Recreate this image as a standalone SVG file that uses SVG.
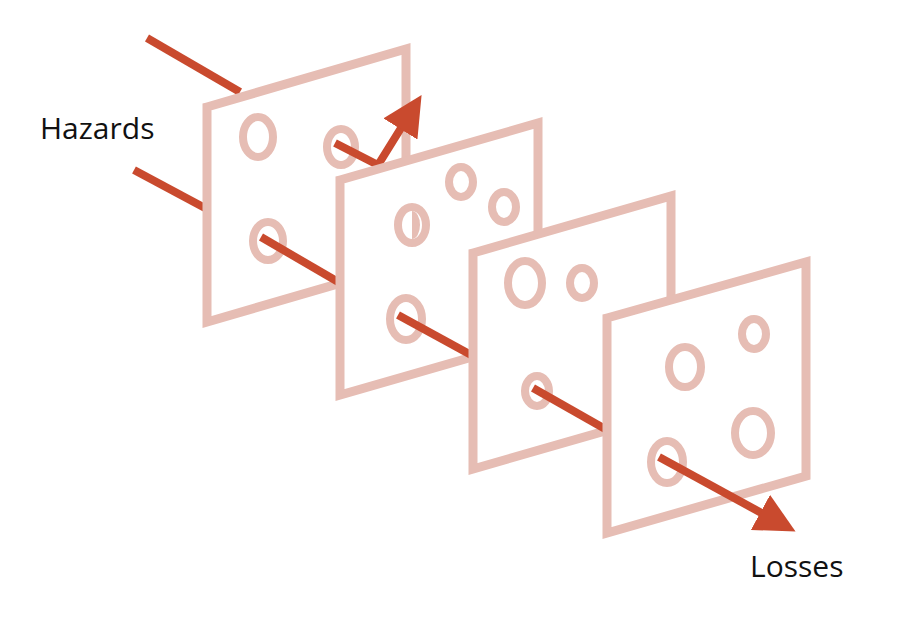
<svg xmlns="http://www.w3.org/2000/svg" width="900" height="618" viewBox="0 0 900 618">
<style>
.s{fill:#fff;stroke:#e6bdb4;stroke-width:9;stroke-linejoin:miter}
.h{fill:none;stroke:#e6bdb4;stroke-width:8}
.a{fill:none;stroke:#c94a2e;stroke-width:8}
.t{font-family:"Open Sans","Liberation Sans",sans-serif;font-size:30px;fill:#111}
</style>
<defs><marker id="ah" markerWidth="5" markerHeight="5" refX="2.5" refY="2.5" orient="auto" markerUnits="strokeWidth"><path d="M0,0L5,2.5L0,5Z" fill="#c94a2e"/></marker></defs>
<rect width="900" height="618" fill="#fff"/>
<text class="t" x="40" y="139">Hazards</text>
<text class="t" x="750" y="577">Losses</text>
<g id="connectors-back">
<line class="a" x1="147" y1="38" x2="240" y2="92"/>
<line class="a" x1="134" y1="170" x2="205" y2="208"/>
</g>
<g id="slice1">
<polygon class="s" points="207,107 406,49 406,264 207,322"/>
<ellipse class="h" cx="258" cy="137" rx="15" ry="20"/>
<ellipse class="h" cx="341" cy="147" rx="14" ry="18"/>
<ellipse class="h" cx="268" cy="241" rx="15" ry="19"/>
</g>
<g id="connectors-1">
<polyline class="a" points="335,143 378,165 411,112" marker-end="url(#ah)"/>
<line class="a" x1="261" y1="237" x2="340" y2="283"/>
</g>
<g id="slice2">
<polygon class="s" points="340,180 538,123 538,338 340,395"/>
<ellipse class="h" cx="412" cy="225" rx="14" ry="18"/>
<path d="M412,211 a8,14 0 0 1 0,28 z" fill="#e6bdb4"/>
<ellipse class="h" cx="461" cy="182" rx="12" ry="15"/>
<ellipse class="h" cx="504" cy="207" rx="12" ry="15"/>
<ellipse class="h" cx="406" cy="319" rx="16" ry="21"/>
</g>
<g id="connectors-2"><line class="a" x1="398" y1="315" x2="473" y2="356"/></g>
<g id="slice3">
<polygon class="s" points="473,253 671,196 671,412 473,469"/>
<ellipse class="h" cx="525" cy="283" rx="17" ry="22"/>
<ellipse class="h" cx="582" cy="283" rx="12" ry="15"/>
<ellipse class="h" cx="537" cy="391" rx="12" ry="15"/>
</g>
<g id="connectors-3"><line class="a" x1="533" y1="388" x2="607" y2="430"/></g>
<g id="slice4">
<polygon class="s" points="607,318 806,262 806,476 607,533"/>
<ellipse class="h" cx="685" cy="367" rx="16" ry="20"/>
<ellipse class="h" cx="754" cy="334" rx="12" ry="15"/>
<ellipse class="h" cx="753" cy="433" rx="18" ry="22"/>
<ellipse class="h" cx="667" cy="462" rx="16" ry="21"/>
</g>
<g id="connectors-4"><line class="a" x1="659" y1="457" x2="778" y2="522" marker-end="url(#ah)"/></g>
</svg>
